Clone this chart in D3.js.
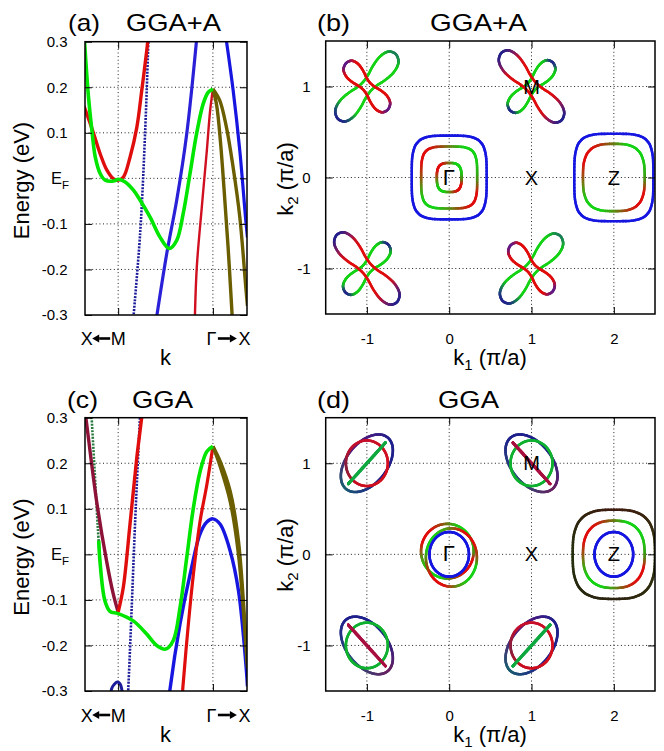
<!DOCTYPE html>
<html><head><meta charset="utf-8">
<script src="https://cdn.jsdelivr.net/npm/d3@7"></script>
<style>
body{margin:0;background:#fff}
svg{display:block}
text{font-family:"Liberation Sans",Arial,sans-serif;fill:#000}
</style>
</head><body><svg id="c" width="664" height="751"></svg>
<script>
// ================= DATA =================
const eTicks = [0.3, 0.2, 0.1, 0, -0.1, -0.2, -0.3];
const eTickLabels = ["0.3", "0.2", "0.1", "E_F", "-0.1", "-0.2", "-0.3"];
const kSym = [0, 1];               // M, Gamma
const kDomain = [-0.35, 1.36];
const eDomain = [-0.3, 0.3];
const k1Ticks = [-1, 0, 1, 2];
const k2Ticks = [1, 0, -1];
const k1Domain = [-1.5, 2.5];
const k2Domain = [-1.5, 1.5];
const symPoints = [["Γ", 0, 0], ["X", 1, 0], ["Z", 2, 0], ["M", 1, 1]];

// ---- panel (a) GGA+A bands: [k, E(eV)] ----
const aBlueDot = [[0.155,-0.32],[0.232,-0.121],[0.284,0.098],[0.322,0.32]];
const aBlueL   = [[0.395,-0.32],[0.513,-0.165],[0.618,-0.048],[0.724,0.098],[0.835,0.32]];
const aBlueR   = [[1.13,0.32],[1.144,0.3],[1.214,0.193],[1.284,0.061],[1.347,-0.092],[1.365,-0.13]];
const aRedG    = [[0.808,-0.32],[0.83,-0.195],[0.883,-0.063],[0.936,0.061],[0.971,0.149],[1.0,0.196]];
const aOlive1  = [[1.0,0.196],[1.072,0.171],[1.143,0.112],[1.213,0.025],[1.284,-0.085],[1.347,-0.238],[1.365,-0.28]];
const aOlive2  = [[1.0,0.196],[1.04,0.16],[1.08,0.08],[1.12,-0.03],[1.16,-0.15],[1.2,-0.29],[1.21,-0.33]];
const aRedM    = [[-0.36,0.158],[-0.266,0.103],[-0.19,0.054],[-0.119,0.018],[-0.049,-0.001],[0.003,-0.004],[0.056,0.003],[0.126,0.047],[0.197,0.112],[0.249,0.193],[0.302,0.281],[0.322,0.32]];
const aGreen   = [[-0.355,0.30],[-0.313,0.178],[-0.277,0.105],[-0.242,0.047],[-0.189,0.01],[-0.137,-0.004],[-0.049,-0.006],[0.003,-0.002],[0.074,-0.008],[0.161,-0.026],[0.232,-0.048],[0.337,-0.085],[0.442,-0.129],[0.54,-0.154],[0.618,-0.136],[0.687,-0.077],[0.758,0.01],[0.828,0.098],[0.898,0.164],[0.951,0.189],[1.0,0.196]];

// ---- panel (c) GGA bands ----
const cBlueArc = [[-0.08,-0.32],[-0.069,-0.295],[-0.044,-0.286],[-0.01,-0.28],[0.019,-0.284],[0.037,-0.295],[0.045,-0.32]];
const cBlueDot = [[0.1,-0.32],[0.107,-0.295],[0.143,-0.117],[0.178,0.066],[0.23,0.299],[0.236,0.32]];
const cBlue    = [[0.535,-0.32],[0.548,-0.295],[0.653,-0.153],[0.759,-0.044],[0.865,0.045],[0.936,0.071],[1.0,0.078],[1.077,0.066],[1.183,0.007],[1.27,-0.08],[1.351,-0.248],[1.365,-0.29]];
const cRedG    = [[0.675,-0.32],[0.682,-0.295],[0.741,-0.153],[0.794,-0.044],[0.865,0.073],[0.936,0.153],[1.0,0.237]];
const cOlive1  = [[1.0,0.237],[1.077,0.204],[1.183,0.138],[1.27,0.029],[1.351,-0.197],[1.365,-0.24]];
const cOlive2  = [[1.0,0.237],[1.077,0.193],[1.183,0.116],[1.27,0.0],[1.351,-0.208],[1.365,-0.25]];
const cMaroon  = [[-0.36,0.33],[-0.34,0.299],[-0.227,0.116],[-0.122,-0.015],[-0.052,-0.087],[0.0,-0.127]];
const cRedM    = [[0.0,-0.127],[0.054,-0.073],[0.125,0.066],[0.196,0.211],[0.248,0.299],[0.26,0.32]];
const cGreenDot= [[-0.29,0.33],[-0.28,0.299],[-0.25,0.19],[-0.215,0.06],[-0.192,-0.015]];
const cGreen   = [[-0.205,0.03],[-0.192,-0.015],[-0.14,-0.102],[-0.087,-0.125],[0.0,-0.13],[0.16,-0.146],[0.301,-0.175],[0.407,-0.2],[0.502,-0.208],[0.582,-0.189],[0.653,-0.117],[0.724,-0.007],[0.794,0.102],[0.865,0.182],[0.936,0.226],[1.0,0.237]];

// ---- Fermi-surface contour shapes (one quadrant, unit size) ----
const shapeSquircle = [[1,0],[0.99,0.445],[0.93,0.708],[0.841,0.841],[0.708,0.93],[0.445,0.99],[0,1]];
const shapeRound    = [[1,0],[0.98,0.389],[0.9,0.647],[0.794,0.794],[0.647,0.9],[0.389,0.98],[0,1]];
const shapeSoft     = [[1,0],[0.97,0.351],[0.88,0.595],[0.758,0.758],[0.595,0.88],[0.351,0.97],[0,1]];
const shapeCircle   = [[1,0],[0.966,0.259],[0.866,0.5],[0.707,0.707],[0.5,0.866],[0.259,0.966],[0,1]];
// dumbbell lobe profile (along axis u, half-width v)
const lobeU = [-1,-0.96,-0.88,-0.75,-0.6,-0.4,-0.2,0,0.2,0.4,0.6,0.75,0.88,0.96,1];
const lobeV = [0,0.5,0.8,0.97,1,0.88,0.66,0.56,0.66,0.88,1,0.97,0.8,0.5,0];

// contour rows: [k1 centre, k2 centre, shape, axis angle, half-size along axis, half-size across, colour set]
const fermiB = [
  [0,0,"sq",0,0.455,0.46,"blue"],
  [0,0,"sq",0,0.34,0.34,"quad"],
  [0,0,"rd",0,0.15,0.16,"quad"],
  [2,0,"sq",0,0.48,0.48,"blue"],
  [2,0,"rd",0,0.375,0.37,"quad"],
  [-1,1,"lobe",45,0.5,0.12,"lobeGreenA"],
  [-1,1,"lobe",-45,0.36,0.1,"lobeRedA"],
  [1,-1,"lobe",45,0.5,0.12,"lobeGreenA"],
  [1,-1,"lobe",-45,0.36,0.1,"lobeRedA"],
  [1,1,"lobe",45,0.37,0.1,"lobeGreenB"],
  [1,1,"lobe",-45,0.52,0.12,"lobeRedB"],
  [-1,-1,"lobe",45,0.37,0.1,"lobeGreenB"],
  [-1,-1,"lobe",-45,0.52,0.12,"lobeRedB"]
];
const fermiD = [
  [-0.022,0.035,"ci",0,0.32,0.3,"quad"],
  [0.027,-0.035,"ci",0,0.31,0.32,"quadB"],
  [0,0,"ci",0,0.24,0.245,"blue"],
  [2,0,"rd",0,0.5,0.49,"dark"],
  [2,0,"soft",0,0.375,0.37,"quad"],
  [2,0,"ci",0,0.235,0.245,"blue"],
  [-1,1,"ci",45,0.38,0.235,"navyA"],
  [-1,1,"ci",0,0.255,0.25,"redC"],
  [-1,1,"ci",45,0.32,0.004,"greenL"],
  [1,-1,"ci",45,0.38,0.235,"navyA"],
  [1,-1,"ci",0,0.255,0.25,"redC"],
  [1,-1,"ci",45,0.32,0.004,"greenL"],
  [1,1,"ci",-45,0.38,0.235,"navyB"],
  [1,1,"ci",0,0.255,0.25,"greenC"],
  [1,1,"ci",-45,0.32,0.004,"redL"],
  [-1,-1,"ci",-45,0.38,0.235,"navyB"],
  [-1,-1,"ci",0,0.255,0.25,"greenC"],
  [-1,-1,"ci",-45,0.32,0.004,"redL"]
];

// ================= STYLE =================
const RED="#e00d0d", GREEN="#14d214", BLUE="#1616e0", NAVY="#20208c", OLIVE="#6a5e00", MAROON="#8c1238", LIME="#00e600";
const colourSets = {
  blue:[[0,BLUE],[360,BLUE]],
  quad:[[0,"#3c9a12"],[30,GREEN],[70,GREEN],[100,"#8a5810"],[130,RED],[165,RED],[195,"#5a9012"],[220,GREEN],[255,GREEN],[285,"#8a5810"],[310,RED],[345,RED],[360,"#3c9a12"]],
  quadB:[[0,"#8a5810"],[30,RED],[70,RED],[100,"#5a9012"],[130,GREEN],[165,GREEN],[195,"#8a5810"],[220,RED],[255,RED],[285,"#5a9012"],[310,GREEN],[345,GREEN],[360,"#8a5810"]],
  dark:[[0,"#30340e"],[90,"#401a10"],[180,"#24300e"],[270,"#2c2210"],[360,"#30340e"]],
  navyA:[[0,NAVY],[90,"#5a1a7a"],[180,"#1a6070"],[270,NAVY],[360,NAVY]],
  navyB:[[0,"#6a2060"],[90,NAVY],[180,NAVY],[270,"#2a4a7a"],[360,"#6a2060"]],
  redC:[[0,"#d41020"],[140,"#c01030"],[190,"#802040"],[240,"#c81020"],[360,"#d41020"]],
  greenC:[[0,"#10b030"],[360,"#10b030"]],
  greenL:[[0,"#10a840"],[360,"#10a840"]],
  redL:[[0,"#a81040"],[360,"#a81040"]],
  lobeGreenA:[[-1,NAVY],[-0.82,"#1a5a6a"],[-0.65,GREEN],[0.8,GREEN],[1,"#1a7a5a"]],
  lobeRedA:[[-1,"#5a1a8a"],[-0.82,RED],[0.82,RED],[1,"#5a1a8a"]],
  lobeRedB:[[-1,NAVY],[-0.75,"#8a1a5a"],[-0.55,RED],[0.55,RED],[0.75,"#8a1a5a"],[1,NAVY]],
  lobeGreenB:[[-1,NAVY],[-0.85,GREEN],[0.85,GREEN],[1,NAVY]]
};

const svg = d3.select("#c");
const FONT = "Liberation Sans, Arial, sans-serif";
const defs = svg.append("defs");

const PA={x0:85,x1:247,y0:41.7,y1:315};
const PC={x0:85,x1:247,y0:417.7,y1:691};
const PB={x0:325.7,x1:655,y0:41,y1:314};
const PD={x0:325.7,x1:655,y0:417.7,y1:691};

function clip(id,P){
  defs.append("clipPath").attr("id",id).append("rect")
    .attr("x",P.x0).attr("y",P.y0).attr("width",P.x1-P.x0).attr("height",P.y1-P.y0);
}
function grid(g,x,y,P,xs,ys){
  xs.forEach(v=>g.append("line").attr("x1",x(v)).attr("x2",x(v)).attr("y1",P.y0).attr("y2",P.y1)
    .attr("stroke","#222").attr("stroke-width",1).attr("stroke-dasharray","1,2.6"));
  ys.forEach(v=>g.append("line").attr("y1",y(v)).attr("y2",y(v)).attr("x1",P.x0).attr("x2",P.x1)
    .attr("stroke","#222").attr("stroke-width",1).attr("stroke-dasharray","1,2.6"));
}
function frame(g,x,y,P,xt,yt,yFmt,xFmt,padL,padB){
  const st=a=>{a.select(".domain").remove();a.attr("font-family",FONT).attr("font-size",15);
    a.selectAll("line").attr("stroke","#000");a.selectAll("text").attr("fill","#000");};
  g.append("g").attr("transform",`translate(${P.x0},0)`)
    .call(d3.axisLeft(y).tickValues(yt).tickSize(-7).tickPadding(padL).tickFormat(yFmt)).call(st);
  g.append("g").attr("transform",`translate(${P.x1},0)`)
    .call(d3.axisRight(y).tickValues(yt).tickSize(-7).tickFormat("")).call(st);
  g.append("g").attr("transform",`translate(0,${P.y0})`)
    .call(d3.axisTop(x).tickValues(xt).tickSize(-7).tickFormat("")).call(st);
  g.append("g").attr("transform",`translate(0,${P.y1})`)
    .call(d3.axisBottom(x).tickValues(xt).tickSize(-7).tickPadding(padB).tickFormat(xFmt)).call(st);
  g.append("rect").attr("x",P.x0).attr("y",P.y0).attr("width",P.x1-P.x0).attr("height",P.y1-P.y0)
    .attr("fill","none").attr("stroke","#000").attr("stroke-width",1.5);
}
function txt(x,y,s,size,opts={}){
  const t=svg.append("text").attr("x",x).attr("y",y).attr("font-size",size).attr("font-family",opts.family||FONT);
  if(opts.anchor) t.attr("text-anchor",opts.anchor);
  if(opts.len) t.attr("textLength",opts.len).attr("lengthAdjust","spacingAndGlyphs");
  if(opts.rot) t.attr("transform",`rotate(-90,${x},${y})`);
  t.text(s); return t;
}
function arrow(x1,x2,y){ // shaft from x1 to arrow tip at x2
  const dir=Math.sign(x2-x1), hx=x2-dir*7;
  svg.append("line").attr("x1",x1).attr("x2",hx).attr("y1",y).attr("y2",y).attr("stroke","#000").attr("stroke-width",2.6);
  svg.append("path").attr("d",`M${x2},${y}L${hx},${y-4}L${hx},${y+4}Z`).attr("fill","#000");
}
const hyphenFmt = d => String(d);

// ================= BAND PANELS =================
function bandPanel(P,id,bands,labelY){
  const x=d3.scaleLinear().domain(kDomain).range([P.x0,P.x1]);
  const y=d3.scaleLinear().domain(eDomain).range([P.y1,P.y0]);
  clip(id,P);
  const g=svg.append("g");
  grid(g,x,y,P,kSym,eTicks.filter(v=>Math.abs(v)<0.29));
  const line=d3.line().x(d=>x(d[0])).y(d=>y(d[1])).curve(d3.curveCatmullRom.alpha(0.5));
  const bg=g.append("g").attr("clip-path",`url(#${id})`);
  bands.forEach(([data,col,w,dash])=>{
    const p=bg.append("path").attr("d",line(data)).attr("fill","none").attr("stroke",col)
      .attr("stroke-width",w).attr("stroke-linejoin","round");
    if(dash) p.attr("stroke-dasharray",dash);
  });
  frame(g,x,y,P,kSym,eTicks,(d,i)=>eTickLabels[i]==="E_F"?"":eTickLabels[i],()=>"",17.5,0);
  const ef=svg.append("text").attr("x",P.x0-34).attr("y",y(0)+6).attr("font-size",16.5).attr("font-family",FONT);
  ef.append("tspan").text("E");
  ef.append("tspan").attr("dy",4.5).attr("font-size",11.5).text("F");
  const ly=labelY;
  txt(x(0)-31.5,ly,"X",18,{anchor:"middle"});
  arrow(x(0)-8,x(0)-26,ly-6.5);
  txt(x(0),ly,"M",18,{anchor:"middle"});
  txt(x(1)-1.5,ly,"Γ",18,{anchor:"middle"});
  arrow(x(1)+5,x(1)+24,ly-6.5);
  txt(x(1)+31.5,ly,"X",18,{anchor:"middle"});
  return {x,y};
}

bandPanel(PA,"clipA",[
  [aBlueDot,"#1c1c9a",2.6,"2,1.3"],
  [aBlueL,"#2a20d8",3.2],
  [aBlueR,BLUE,3.2],
  [aRedG,"#d01020",2.4],
  [aOlive1,OLIVE,3.4],
  [aOlive2,OLIVE,3.4],
  [aRedM,RED,3.4],
  [aGreen,LIME,3.6]
],345);
bandPanel(PC,"clipC",[
  [cBlueArc,"#1c1c9a",3],
  [cBlueDot,"#1c1c9a",2.6,"2,1.3"],
  [cBlue,BLUE,3.4],
  [cRedG,RED,3.2],
  [cOlive1,OLIVE,3.4],
  [cOlive2,OLIVE,3.4],
  [cGreenDot,"#2a7a40",2.6,"2,1.3"],
  [cMaroon,MAROON,3.4],
  [cRedM,RED,3.4],
  [cGreen,LIME,3.6]
],721.5);

txt(29,180.5,"Energy (eV)",22,{anchor:"middle",rot:true});
txt(29,557,"Energy (eV)",22,{anchor:"middle",rot:true});
txt(165.5,365,"k",22,{anchor:"middle"});
txt(165.5,741.5,"k",22,{anchor:"middle"});

// ================= FERMI PANELS =================
function unitLoop(shape){
  const q=shape, pts=[];
  q.forEach(p=>pts.push([p[0],p[1]]));
  q.slice(0,-1).reverse().forEach(p=>pts.push([-p[0],p[1]]));
  q.slice(1).forEach(p=>pts.push([-p[0],-p[1]]));
  q.slice(1,-1).reverse().forEach(p=>pts.push([p[0],-p[1]]));
  return pts.map(p=>({u:p[0],v:p[1],key:((Math.atan2(p[1],p[0])*180/Math.PI)+360)%360}));
}
function lobeLoop(){
  const pts=[];
  lobeU.forEach((u,i)=>pts.push({u,v:lobeV[i],key:u}));
  for(let i=lobeU.length-2;i>=1;i--) pts.push({u:lobeU[i],v:-lobeV[i],key:lobeU[i]});
  return pts;
}
const loops={sq:unitLoop(shapeSquircle),rd:unitLoop(shapeRound),soft:unitLoop(shapeSoft),ci:unitLoop(shapeCircle),lobe:lobeLoop()};
function colourAt(stops,k){
  for(let i=0;i<stops.length-1;i++){
    const a=stops[i],b=stops[i+1];
    if(k>=a[0]&&k<=b[0]) return d3.interpolateRgb(a[1],b[1])((k-a[0])/((b[0]-a[0])||1));
  }
  return stops[stops.length-1][1];
}
function drawLoop(g,pts,cols,w){
  const n=pts.length,m=6;
  for(let i=0;i<n;i++){
    const p0=pts[(i-1+n)%n],p1=pts[i],p2=pts[(i+1)%n],p3=pts[(i+2)%n];
    const ci=d3.interpolateRgb(cols[i],cols[(i+1)%n]);
    let prev=p1;
    for(let s=1;s<=m;s++){
      const t=s/m,t2=t*t,t3=t2*t;
      const f=(a,b,c,d)=>0.5*(2*b+(-a+c)*t+(2*a-5*b+4*c-d)*t2+(-a+3*b-3*c+d)*t3);
      const q=[f(p0[0],p1[0],p2[0],p3[0]),f(p0[1],p1[1],p2[1],p3[1])];
      g.append("line").attr("x1",prev[0]).attr("y1",prev[1]).attr("x2",q[0]).attr("y2",q[1])
        .attr("stroke",ci((s-0.5)/m)).attr("stroke-width",w).attr("stroke-linecap","round");
      prev=q;
    }
  }
}
function fermiPanel(P,id,rows){
  const x=d3.scaleLinear().domain(k1Domain).range([P.x0,P.x1]);
  const y=d3.scaleLinear().domain(k2Domain).range([P.y1,P.y0]);
  clip(id,P);
  const g=svg.append("g");
  grid(g,x,y,P,k1Ticks,k2Ticks);
  const cg=g.append("g").attr("clip-path",`url(#${id})`);
  rows.forEach(([cx,cy,shape,ang,a,b,cset])=>{
    const th=ang*Math.PI/180, dx=[Math.cos(th),Math.sin(th)], px=[-Math.sin(th),Math.cos(th)];
    const loop=loops[shape];
    const pts=loop.map(p=>[x(cx+p.u*a*dx[0]+p.v*b*px[0]), y(cy+p.u*a*dx[1]+p.v*b*px[1])]);
    const cols=loop.map(p=>colourAt(colourSets[cset],p.key));
    drawLoop(cg,pts,cols,2.6);
  });
  frame(g,x,y,P,k1Ticks,k2Ticks,hyphenFmt,hyphenFmt,15,19);
  symPoints.forEach(([s,a,b])=>{
    svg.append("text").attr("x",x(a)+(s==="Γ"?-0.5:0)).attr("y",y(b)+7).attr("text-anchor","middle")
      .attr("font-size",s==="Γ"?22:20).attr("font-family",s==="Γ"?"Liberation Serif, DejaVu Serif, serif":FONT).text(s);
  });
  return {x,y};
}
fermiPanel(PB,"clipB",fermiB);
fermiPanel(PD,"clipD",fermiD);

function kLabel(x,y,sub,rot){
  const t=svg.append("text").attr("x",x).attr("y",y).attr("font-size",22).attr("font-family",FONT).attr("text-anchor","middle");
  if(rot) t.attr("transform",`rotate(-90,${x},${y})`);
  t.append("tspan").text("k");
  t.append("tspan").attr("dy",5).attr("font-size",15).text(sub);
  t.append("tspan").attr("dy",-5).text(" (π/a)");
}
kLabel(490,365,"1",false);
kLabel(490,742,"1",false);
kLabel(293,179,"2",true);
kLabel(293,555,"2",true);

// titles
txt(68,30.5,"(a)",24,{len:32});
txt(126,30.5,"GGA+A",24,{len:95});
txt(317,30.5,"(b)",24,{len:33});
txt(430,30.5,"GGA+A",24,{len:97});
txt(67,407.5,"(c)",24,{len:31});
txt(132,407.5,"GGA",24,{len:61});
txt(317,407.5,"(d)",24,{len:33});
txt(438,407.5,"GGA",24,{len:61});
</script>
</body></html>
